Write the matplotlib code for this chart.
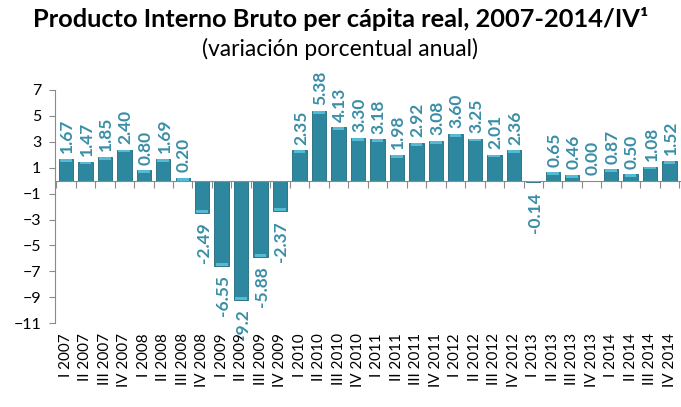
import numpy as np
import matplotlib.pyplot as plt

plt.rcParams['font.family'] = ['Lato', 'DejaVu Sans']

quarters = ['I 2007', 'II 2007', 'III 2007', 'IV 2007',
            'I 2008', 'II 2008', 'III 2008', 'IV 2008',
            'I 2009', 'II 2009', 'III 2009', 'IV 2009',
            'I 2010', 'II 2010', 'III 2010', 'IV 2010',
            'I 2011', 'II 2011', 'III 2011', 'IV 2011',
            'I 2012', 'II 2012', 'III 2012', 'IV 2012',
            'I 2013', 'II 2013', 'III 2013', 'IV 2013',
            'I 2014', 'II 2014', 'III 2014', 'IV 2014']
values = [1.67, 1.47, 1.85, 2.40,
          0.80, 1.69, 0.20, -2.49,
          -6.55, -9.20, -5.88, -2.37,
          2.35, 5.38, 4.13, 3.30,
          3.18, 1.98, 2.92, 3.08,
          3.60, 3.25, 2.01, 2.36,
          -0.14, 0.65, 0.46, 0.00,
          0.87, 0.50, 1.08, 1.52]
value_labels = ['1.67', '1.47', '1.85', '2.40',
                '0.80', '1.69', '0.20', '-2.49',
                '-6.55', '-9.2', '-5.88', '-2.37',
                '2.35', '5.38', '4.13', '3.30',
                '3.18', '1.98', '2.92', '3.08',
                '3.60', '3.25', '2.01', '2.36',
                '-0.14', '0.65', '0.46', '0.00',
                '0.87', '0.50', '1.08', '1.52']
yticks = [7, 5, 3, 1, -1, -3, -5, -7, -9, -11]

teal = '#2c879f'
cap = '#55bad3'
label_col = '#3a8ea6'
grey = '#8a8a8a'

fig = plt.figure(figsize=(6.81, 4.07), dpi=100)
ax = fig.add_axes([0.081, 0.206, 0.918, 0.573])

x = np.arange(len(values))
vals = np.array(values)
ax.bar(x, vals, width=0.74, color=teal, edgecolor='#22697c', linewidth=0.6, zorder=2)
# lighter cap on the outer end of each bar (3d look)
cap_h = np.sign(vals) * np.minimum(np.abs(vals), 0.22)
ax.bar(x, -cap_h, bottom=vals, width=0.6, color=cap, linewidth=0, zorder=3)

for xi, v, lab in zip(x, vals, value_labels):
    if v >= 0:
        ax.annotate(lab, (xi, v), xytext=(1, 4), textcoords='offset points',
                    rotation=90, ha='center', va='bottom', fontsize=12.5,
                    fontweight='bold', color=label_col)
    else:
        ax.annotate(lab, (xi, v), xytext=(1, -7), textcoords='offset points',
                    rotation=90, ha='center', va='top', fontsize=12.5,
                    fontweight='bold', color=label_col)

ax.set_xlim(-0.55, len(values) - 0.45)
ax.set_ylim(-11, 7)
ax.set_yticks(yticks)
ax.tick_params(axis='y', labelsize=11.5, length=4, color=grey, pad=6)

for s in ['top', 'right']:
    ax.spines[s].set_visible(False)
ax.spines['left'].set_color(grey)
ax.spines['bottom'].set_position(('data', 0))
ax.spines['bottom'].set_color(grey)

# tick marks between bars on the zero line
ax.set_xticks(np.arange(len(values) + 1) - 0.5)
ax.set_xticklabels([])
ax.tick_params(axis='x', length=5, color=grey, direction='out')

# category labels along the bottom of the plot
sec = ax.secondary_xaxis(0)
sec.set_xticks(x, quarters, rotation=90)
sec.tick_params(length=0, labelsize=11, pad=7)
sec.spines['bottom'].set_visible(False)

fig.text(0.5, 0.953, 'Producto Interno Bruto per cápita real, 2007-2014/IV¹',
         ha='center', va='center', fontsize=18.3, fontweight='bold')
fig.text(0.5, 0.88, '(variación porcentual anual)',
         ha='center', va='center', fontsize=16.5)
fig.text(0.005, -0.016,
         '1/   Estimación    de    población    realizada    por    el    INEGI,    a    partir    de    las    proyecciones',
         ha='left', va='center', fontsize=11)

fig.savefig('out.png', dpi=100)
